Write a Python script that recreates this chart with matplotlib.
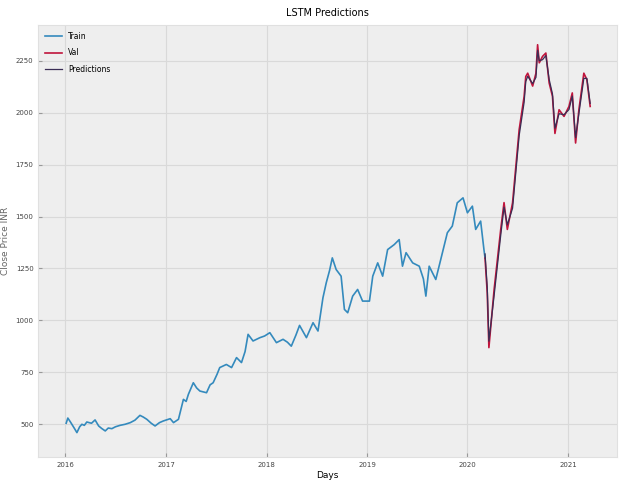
import matplotlib
matplotlib.use("Agg")
import matplotlib.pyplot as plt
import matplotlib.dates as mdates
import pandas as pd

# training closes (sampled from the daily series)
train_dates = [
    "2016-01-04", "2016-01-10", "2016-01-20", "2016-02-03", "2016-02-12", "2016-02-22",
    "2016-03-01", "2016-03-10", "2016-03-19", "2016-04-05", "2016-04-18", "2016-05-01",
    "2016-05-12", "2016-05-25", "2016-06-05", "2016-06-18", "2016-07-01", "2016-07-18",
    "2016-08-05", "2016-08-24", "2016-09-10", "2016-09-28", "2016-10-10", "2016-10-23",
    "2016-11-08", "2016-11-22", "2016-12-08", "2016-12-22", "2017-01-16", "2017-01-28",
    "2017-02-15", "2017-03-05", "2017-03-15", "2017-03-23", "2017-04-10", "2017-04-22",
    "2017-05-04", "2017-05-28", "2017-06-10", "2017-06-21", "2017-07-05", "2017-07-15",
    "2017-08-08", "2017-08-27", "2017-09-14", "2017-10-02", "2017-10-15", "2017-10-26",
    "2017-11-13", "2017-12-08", "2017-12-25", "2018-01-13", "2018-02-06", "2018-03-02",
    "2018-03-18", "2018-04-01", "2018-04-18", "2018-05-01", "2018-05-26", "2018-06-19",
    "2018-07-07", "2018-07-25", "2018-08-06", "2018-08-18", "2018-08-28", "2018-09-11",
    "2018-09-29", "2018-10-11", "2018-10-23", "2018-11-10", "2018-11-28", "2018-12-16",
    "2019-01-10", "2019-01-22", "2019-02-09", "2019-02-27", "2019-03-17", "2019-04-10",
    "2019-04-28", "2019-05-10", "2019-05-23", "2019-06-16", "2019-07-10", "2019-07-25",
    "2019-08-03", "2019-08-15", "2019-09-08", "2019-09-26", "2019-10-20", "2019-11-07",
    "2019-11-25", "2019-12-16", "2020-01-01", "2020-01-19", "2020-01-31", "2020-02-18",
    "2020-03-01", "2020-03-05",
]
train_close = [
    505, 530, 510, 480, 460, 488,
    500, 495, 511, 505, 521, 492,
    480, 468, 482, 479, 488, 495,
    500, 508, 520, 543, 535, 524,
    505, 492, 508, 516, 527, 508,
    524, 620, 610, 644, 700, 675,
    660, 652, 690, 700, 740, 773,
    788, 773, 821, 797, 850, 933,
    901, 917, 925, 941, 893, 909,
    895, 876, 930, 976, 917, 989,
    949, 1109, 1181, 1240, 1301, 1245,
    1213, 1053, 1037, 1117, 1149, 1093,
    1093, 1213, 1277, 1213, 1341, 1365,
    1389, 1261, 1326, 1277, 1261, 1200,
    1117, 1261, 1197, 1293, 1422, 1454,
    1566, 1590, 1518, 1550, 1438, 1478,
    1341, 1300,
]

# validation closes and model output
valid_dates = [
    "2020-03-05", "2020-03-13", "2020-03-19", "2020-04-07", "2020-05-01", "2020-05-13",
    "2020-05-25", "2020-06-13", "2020-06-25", "2020-07-07", "2020-07-25", "2020-07-31",
    "2020-08-07", "2020-08-25", "2020-09-06", "2020-09-12", "2020-09-18", "2020-09-30",
    "2020-10-12", "2020-10-24", "2020-11-05", "2020-11-14", "2020-11-29", "2020-12-17",
    "2021-01-04", "2021-01-16", "2021-01-28", "2021-02-09", "2021-02-27", "2021-03-10",
    "2021-03-22",
]
valid_close = [
    1300, 1133, 869, 1149, 1438, 1567,
    1438, 1566, 1742, 1918, 2078, 2174,
    2190, 2128, 2190, 2327, 2240, 2271,
    2287, 2143, 2079, 1900, 2014, 1982,
    2030, 2095, 1854, 2014, 2190, 2159,
    2030,
]
predictions = [
    1320, 1160, 900, 1120, 1410, 1545,
    1460, 1540, 1715, 1890, 2050, 2150,
    2175, 2140, 2170, 2300, 2250, 2255,
    2275, 2160, 2090, 1925, 1995, 1990,
    2015, 2080, 1880, 1995, 2165, 2165,
    2045,
]

plt.style.use("bmh")
plt.rcParams["font.family"] = ["Liberation Sans Narrow", "DejaVu Sans"]
plt.rcParams["axes.edgecolor"] = "#e0e0e0"
plt.rcParams["grid.color"] = "#d9d9d9"
plt.rcParams["grid.linestyle"] = "-"
plt.rcParams["grid.linewidth"] = 0.8

train = pd.Series(train_close, index=pd.to_datetime(train_dates))
valid = pd.DataFrame(
    {"Close": valid_close, "Predictions": predictions},
    index=pd.to_datetime(valid_dates),
)

fig = plt.figure(figsize=(6.19, 4.86), dpi=100)
ax = fig.add_axes([0.062, 0.059, 0.935, 0.89])

ax.plot(train.index, train.values, lw=1.2, color="#348ABD")
ax.plot(valid.index, valid["Close"], lw=1.2, color="#C0143C")
ax.plot(valid.index, valid["Predictions"], lw=0.9, color="#3a2d55")

ax.set_title("LSTM Predictions", fontsize=7, pad=6)
ax.set_xlabel("Days", fontsize=6.5, labelpad=2)
ax.set_ylabel("Close Price INR", fontsize=6.5, labelpad=4, color="#666666")
ax.set_yticks([500, 750, 1000, 1250, 1500, 1750, 2000, 2250])
ax.xaxis.set_major_locator(mdates.YearLocator())
ax.xaxis.set_major_formatter(mdates.DateFormatter("%Y"))
ax.tick_params(labelsize=5, length=3, color="#999999", labelcolor="#444444")
ax.set_ylim(341, 2423)
ax.set_xlim(pd.Timestamp("2015-09-25"), pd.Timestamp("2021-06-28"))

ax.legend(["Train", "Val", "Predictions"], loc="upper left", fontsize=5.5,
          frameon=False, handlelength=2.2, labelspacing=1.0)

fig.savefig("out.png", dpi=100)
